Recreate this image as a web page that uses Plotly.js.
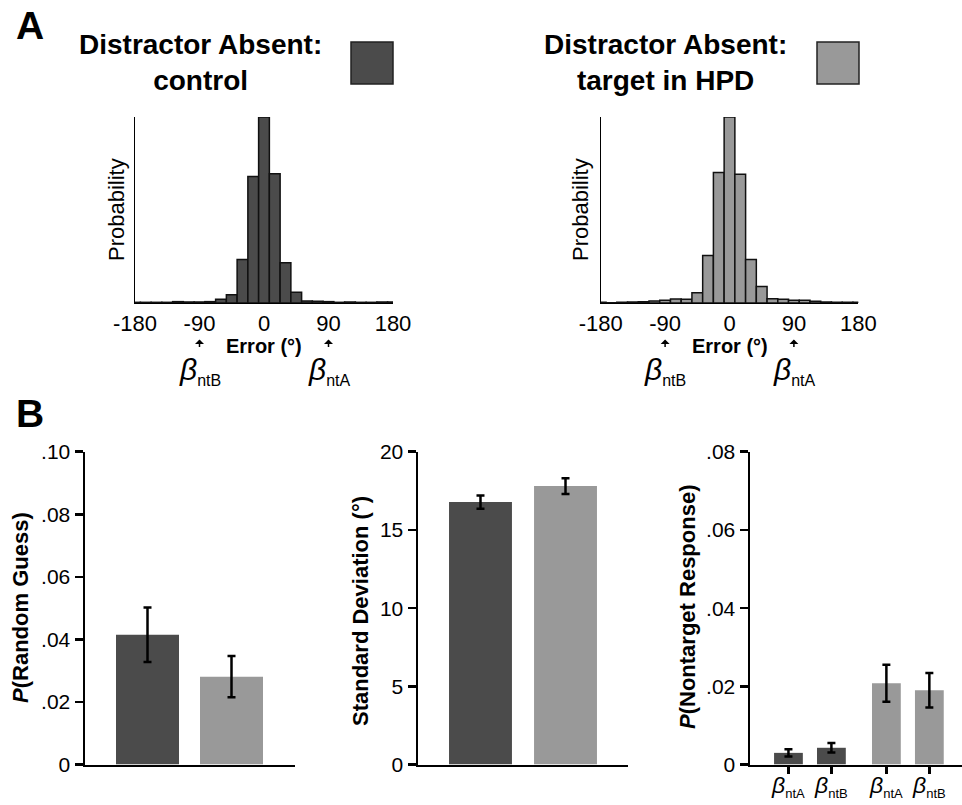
<!DOCTYPE html>
<html>
<head>
<meta charset="utf-8">
<script src="https://cdn.plot.ly/plotly-3.0.1.min.js"></script>
<style>html,body{margin:0;padding:0;background:#fff;}#chart{width:962px;height:805px;}</style>
</head>
<body>
<div id="chart"></div>
<script>
// ---------- DATA ----------
var binCenters = [-180,-165,-150,-135,-120,-105,-90,-75,-60,-45,-30,-15,0,15,30,45,60,75,90,105,120,135,150,165,180];
var probControl = [0.0012,0.0012,0.0012,0.0012,0.0024,0.0018,0.0018,0.0024,0.0065,0.0147,0.0765,0.2224,0.3271,0.2271,0.0706,0.0188,0.0035,0.0029,0.0024,0.0012,0.0018,0.0012,0.0012,0.0018,0.0018];
var probHPD = [0.0012,0.0006,0.0012,0.0018,0.0024,0.0035,0.0047,0.0071,0.0065,0.0182,0.0835,0.2294,0.3271,0.2265,0.0765,0.0288,0.0076,0.0065,0.0047,0.0047,0.0029,0.0018,0.0012,0.0012,0.0012];
var errTicks = [-180,-90,0,90,180];
var errTickText = ['-180','-90','0','90','180'];

var conditions = ['control','target in HPD'];
var guessMean = [0.0415, 0.0281];
var guessSE = [0.0087, 0.0066];
var sdMean = [16.78, 17.80];
var sdSE = [0.42, 0.50];

var ntLabels = ['ntA','ntB','ntA','ntB'];
var ntCondition = [0, 0, 1, 1];
var ntMean = [0.0030, 0.0043, 0.0208, 0.0190];
var ntSE = [0.00095, 0.0012, 0.0047, 0.0044];

var guessTickVals = [0,0.02,0.04,0.06,0.08,0.10];
var guessTickText = ['0','.02','.04','.06','.08','.10'];
var sdTickVals = [0,5,10,15,20];
var ntTickVals = [0,0.02,0.04,0.06,0.08];
var ntTickText = ['0','.02','.04','.06','.08'];

// ---------- STYLE ----------
var FONT = 'Liberation Sans, Arial, Helvetica, sans-serif';
var DARK = '#4b4b4b', LIGHT = '#999999';
var condColors = [DARK, LIGHT];
var W = 962, H = 805;
function px(x){return x/W;}
function py(y){return 1 - y/H;}

var traces = [];
traces.push({type:'bar', x:binCenters, y:probControl, width:15, xaxis:'x', yaxis:'y',
  marker:{color:DARK, line:{color:'#111', width:1.5}}, hoverinfo:'none'});
traces.push({type:'bar', x:binCenters, y:probHPD, width:15, xaxis:'x2', yaxis:'y2',
  marker:{color:LIGHT, line:{color:'#111', width:1.5}}, hoverinfo:'none'});

var pos2 = conditions.map(function(c,i){return i+1;});
traces.push({type:'bar', x:pos2, y:guessMean, width:0.75, xaxis:'x3', yaxis:'y3',
  marker:{color:condColors, line:{width:0}},
  error_y:{type:'data', array:guessSE, visible:true, color:'#000', thickness:2.5, width:4}});
traces.push({type:'bar', x:pos2, y:sdMean, width:0.74, xaxis:'x4', yaxis:'y4',
  marker:{color:condColors, line:{width:0}},
  error_y:{type:'data', array:sdSE, visible:true, color:'#000', thickness:2.5, width:4}});
var ntPos = ntLabels.map(function(l,i){return i + 1 + (ntCondition[i] ? 0.28 : 0);});
traces.push({type:'bar', x:ntPos, y:ntMean, width:0.67, xaxis:'x5', yaxis:'y5',
  marker:{color:ntCondition.map(function(c){return condColors[c];}), line:{width:0}},
  error_y:{type:'data', array:ntSE, visible:true, color:'#000', thickness:2.5, width:4}});

function histX(dom, anchor){
  return {domain:dom, anchor:anchor, range:[-180,180], tickvals:errTicks, ticktext:errTickText, ticks:'',
    showline:true, linecolor:'#000', linewidth:1.2, showgrid:false, zeroline:false,
    tickfont:{family:FONT, size:22, color:'#000'}, fixedrange:true};
}
function histY(anchor){
  return {domain:[py(303), py(117)], anchor:anchor, range:[0,0.3271], showticklabels:false, ticks:'',
    showline:true, linecolor:'#000', linewidth:1, showgrid:false, zeroline:false, fixedrange:true};
}
function barY(anchor, range, tv, tt){
  var a = {domain:[py(764.6), py(451.7)], anchor:anchor, range:range, tickvals:tv, ticks:'outside', ticklen:8,
    tickwidth:2.5, tickcolor:'#000', showline:true, linecolor:'#000', linewidth:2.5, showgrid:false,
    zeroline:false, tickfont:{family:FONT, size:21, color:'#000'}, fixedrange:true};
  if (tt) a.ticktext = tt;
  return a;
}
function barX(dom, anchor, range){
  return {domain:dom, anchor:anchor, range:range, showline:true, linecolor:'#000', linewidth:2.5,
    showgrid:false, zeroline:false, showticklabels:false, ticks:'', fixedrange:true};
}

var betaTxt = function(s, small){
  return '<i>β</i><sub><span style="font-size:'+small+'px">'+s+'</span></sub>';
};

var x5 = barX([px(750), 1], 'y5', [0.105, 5.04]);
x5.showticklabels = true;
x5.tickvals = ntPos;
x5.ticktext = ntLabels.map(function(l){return betaTxt(l, 13);});
x5.ticks = 'outside'; x5.ticklen = 7; x5.tickwidth = 2.5; x5.tickcolor = '#000';
x5.ticklabelstandoff = -9;
x5.tickfont = {family:FONT, size:23, color:'#000'};

var ann = [];
function addText(text, x, y, size, opts){
  var a = {text:text, x:px(x), y:py(y), xref:'paper', yref:'paper', showarrow:false,
    xanchor:'center', yanchor:'middle', font:{family:FONT, size:size, color:'#000'}};
  for (var k in opts) a[k] = opts[k];
  ann.push(a);
}
addText('<b>A</b>', 14, 26, 39, {xanchor:'left'});
addText('<b>B</b>', 14, 414, 39, {xanchor:'left'});
addText('<b>Distractor Absent:</b><br><b>control</b>', 200, 63, 28, {});
addText('<b>Distractor Absent:</b><br><b>target in HPD</b>', 665, 63, 28, {});
addText('Probability', 116, 210, 22, {textangle:-90});
addText('Probability', 580, 210, 22, {textangle:-90});
addText('<b>Error (°)</b>', 264, 346, 20, {});
addText('<b>Error (°)</b>', 729.5, 346, 20, {});
addText('<b><i>P</i>(Random Guess)</b>', 20, 608, 22, {textangle:-90});
addText('<b>Standard Deviation (°)</b>', 360, 611, 22, {textangle:-90});
addText('<b><i>P</i>(Nontarget Response)</b>', 687, 607, 22, {textangle:-90});

// arrows and beta labels under histograms
[['x','y'],['x2','y2']].forEach(function(ax){
  [[-90,'ntB'],[90,'ntA']].forEach(function(b){
    ann.push({x:b[0], y:py(339.5), xref:ax[0], yref:'paper', showarrow:true, ax:0, ay:9,
      arrowhead:1, arrowsize:1, arrowwidth:1.5, arrowcolor:'#000', text:''});
    ann.push({x:b[0], y:py(371), xref:ax[0], yref:'paper', showarrow:false, xanchor:'center', yanchor:'middle',
      text:betaTxt(b[1], 16), font:{family:FONT, size:30, color:'#000'}});
  });
});

var shapes = [
  {type:'rect', xref:'paper', yref:'paper', x0:px(351), x1:px(393), y0:py(84), y1:py(42),
   fillcolor:DARK, line:{color:'#222', width:1.5}},
  {type:'rect', xref:'paper', yref:'paper', x0:px(817), x1:px(859), y0:py(84), y1:py(42),
   fillcolor:LIGHT, line:{color:'#222', width:1.5}}
];

var layout = {
  width:W, height:H, autosize:false, margin:{l:0,r:0,t:0,b:0},
  paper_bgcolor:'#fff', plot_bgcolor:'rgba(0,0,0,0)', showlegend:false,
  font:{family:FONT, color:'#000'},
  xaxis: histX([px(135), px(393)], 'y'), yaxis: histY('x'),
  xaxis2: histX([px(600.7), px(858.3)], 'y2'), yaxis2: histY('x2'),
  xaxis3: barX([px(85), px(295)], 'y3', [0.256, 2.756]),
  yaxis3: barY('x3', [0, 0.1], guessTickVals, guessTickText),
  xaxis4: barX([px(418), px(628)], 'y4', [0.265, 2.735]),
  yaxis4: barY('x4', [0, 20], sdTickVals, null),
  xaxis5: x5,
  yaxis5: barY('x5', [0, 0.08], ntTickVals, ntTickText),
  annotations: ann, shapes: shapes
};

Plotly.newPlot('chart', traces, layout, {displayModeBar:false, staticPlot:true});
</script>
</body>
</html>
